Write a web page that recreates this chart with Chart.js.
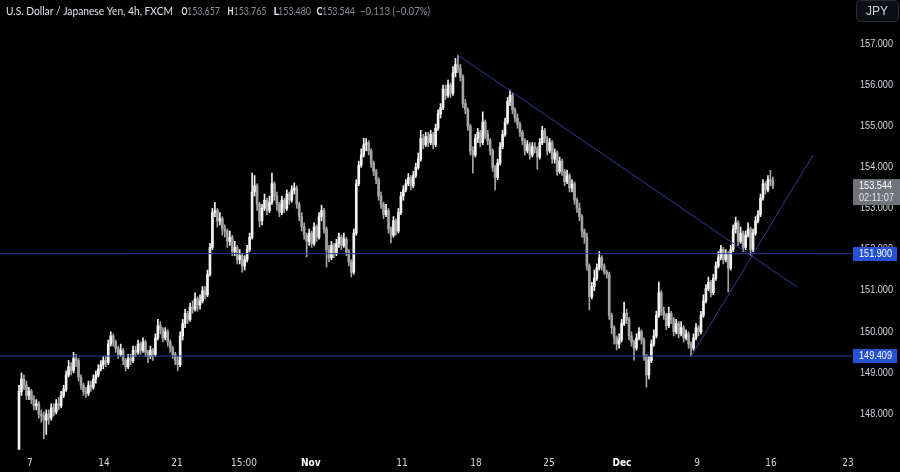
<!DOCTYPE html>
<html><head><meta charset="utf-8">
<script src="https://cdn.jsdelivr.net/npm/chart.js@4.4.1/dist/chart.umd.min.js"></script>
<style>html,body{margin:0;padding:0;background:#000;}#wrap{width:900px;height:472px;position:relative}</style>
</head><body><div id="wrap"><canvas id="c" width="900" height="472"></canvas></div>
<script>
const opens = [147.15,148.55,148.85,148.70,148.45,148.55,148.35,148.20,148.25,148.00,147.95,147.85,148.00,147.90,148.15,148.05,148.25,148.20,148.45,148.60,148.95,149.15,149.05,149.35,149.30,148.90,148.70,148.55,148.50,148.70,148.65,148.85,148.95,149.10,149.20,149.30,149.25,149.70,149.90,149.75,149.60,149.45,149.55,149.30,149.15,149.35,149.30,149.55,149.50,149.70,149.55,149.75,149.50,149.40,149.55,149.45,149.85,150.15,150.05,149.85,150.00,149.75,149.60,149.45,149.30,149.20,149.90,150.20,150.45,150.30,150.60,150.55,150.80,150.65,150.75,151.00,150.90,151.40,152.05,152.90,152.95,152.70,152.75,152.50,152.45,152.20,152.30,151.95,152.05,151.75,151.85,151.60,151.75,152.00,152.30,153.40,153.55,153.10,152.70,153.00,153.20,152.95,153.15,153.60,153.30,153.10,152.90,153.20,153.00,153.35,153.20,153.45,153.50,153.10,152.80,152.55,152.35,152.20,152.40,152.15,152.55,152.30,152.80,152.95,152.50,152.00,151.80,152.10,151.90,152.15,152.30,152.10,152.25,151.95,151.70,151.45,152.40,153.60,154.05,154.30,154.55,154.60,154.40,154.10,153.90,153.70,153.30,153.10,152.85,152.95,152.50,152.35,152.70,152.45,152.90,153.30,153.45,153.60,153.75,153.55,153.80,154.00,154.20,154.70,154.55,154.75,154.60,154.80,154.55,154.95,155.30,155.45,155.90,155.75,156.00,155.80,156.30,156.50,156.40,156.20,155.55,155.40,155.00,154.40,154.30,154.70,154.85,154.60,155.10,154.80,154.65,154.40,154.00,153.75,154.10,154.50,154.80,155.10,155.60,155.75,155.40,155.20,155.05,154.85,154.65,154.40,154.55,154.30,154.50,154.45,154.25,154.60,154.90,154.70,154.40,154.60,154.20,154.35,153.90,154.15,153.90,153.65,153.80,153.50,153.60,153.20,153.00,152.80,152.45,152.30,151.60,150.85,151.10,151.30,151.55,151.80,151.60,151.45,151.40,150.40,150.10,149.85,149.70,149.80,150.20,150.45,150.30,149.90,149.75,149.60,149.85,150.00,149.80,149.40,148.95,149.30,149.70,149.90,150.40,150.95,150.50,150.40,150.15,150.45,150.30,150.00,150.20,149.95,150.10,149.85,149.95,149.70,149.60,149.85,150.10,150.00,150.40,150.75,151.05,151.20,150.95,151.30,151.60,151.80,152.00,151.75,151.90,151.55,152.00,152.50,152.65,152.20,152.40,152.05,152.35,152.50,152.00,152.40,152.70,152.85,153.25,153.60,153.45,153.70,153.657];
const highs = [148.70,149.00,148.95,148.80,148.65,148.60,148.45,148.35,148.30,148.10,148.05,148.10,148.10,148.25,148.25,148.35,148.40,148.55,148.70,149.05,149.30,149.25,149.50,149.45,149.35,148.95,148.75,148.65,148.80,148.80,148.95,149.05,149.20,149.30,149.40,149.40,149.80,150.00,149.95,149.80,149.65,149.70,149.60,149.35,149.45,149.45,149.65,149.65,149.80,149.75,149.85,149.80,149.55,149.65,149.60,149.95,150.30,150.25,150.10,150.10,150.05,149.80,149.65,149.50,149.40,150.00,150.30,150.55,150.50,150.70,150.75,150.95,150.85,150.90,151.10,151.10,151.50,152.15,153.00,153.15,153.00,152.90,152.80,152.60,152.50,152.45,152.35,152.20,152.10,152.00,151.90,151.85,152.10,152.40,153.86,153.80,153.60,153.15,153.10,153.35,153.25,153.30,153.86,153.65,153.40,153.15,153.30,153.25,153.45,153.40,153.55,153.62,153.55,153.15,152.90,152.65,152.40,152.50,152.45,152.65,152.60,152.90,153.08,153.00,152.55,152.10,152.20,152.15,152.25,152.40,152.35,152.40,152.30,152.00,151.75,152.50,153.70,154.15,154.45,154.71,154.70,154.65,154.45,154.15,153.95,153.75,153.40,153.15,153.10,153.00,152.55,152.80,152.75,153.00,153.40,153.55,153.70,153.85,153.80,153.90,154.10,154.35,154.90,154.80,154.85,154.85,154.90,154.85,155.05,155.40,155.55,156.00,156.00,156.12,156.05,156.45,156.65,156.73,156.50,156.25,155.65,155.45,155.05,154.50,154.80,154.95,154.90,155.35,155.15,154.90,154.70,154.45,154.05,154.20,154.60,154.90,155.20,155.70,155.88,155.80,155.45,155.30,155.10,154.90,154.70,154.65,154.60,154.60,154.60,154.50,154.70,155.00,154.95,154.75,154.70,154.65,154.45,154.40,154.25,154.20,153.95,153.93,153.85,153.70,153.65,153.25,153.13,152.85,152.50,152.40,151.65,151.20,151.50,151.65,151.95,151.85,151.65,151.50,151.45,150.45,150.15,149.90,149.95,150.30,150.72,150.55,150.35,150.00,149.80,149.95,150.10,150.05,149.85,149.45,149.40,149.80,150.05,150.50,151.21,151.00,150.60,150.45,150.60,150.50,150.35,150.30,150.25,150.25,150.15,150.05,150.00,149.75,149.95,150.20,150.15,150.50,150.90,151.15,151.33,151.25,151.40,151.70,151.95,152.10,152.05,152.00,151.95,152.10,152.60,152.79,152.70,152.55,152.45,152.45,152.65,152.55,152.50,152.80,152.95,153.35,153.70,153.65,153.80,153.93,153.765];
const lows = [147.10,148.45,148.60,148.35,148.35,148.25,148.10,148.10,147.90,147.80,147.40,147.50,147.75,147.85,147.95,148.00,148.10,148.15,148.40,148.55,148.90,148.95,149.00,149.15,148.80,148.60,148.45,148.40,148.45,148.55,148.60,148.75,148.90,149.05,149.10,149.15,149.20,149.65,149.65,149.50,149.35,149.40,149.20,149.05,149.10,149.20,149.25,149.40,149.45,149.45,149.50,149.40,149.25,149.35,149.30,149.40,149.80,149.95,149.75,149.80,149.65,149.50,149.35,149.20,149.05,149.15,149.80,150.10,150.20,150.25,150.45,150.50,150.50,150.55,150.70,150.80,150.85,151.35,152.00,152.80,152.55,152.60,152.35,152.30,152.05,152.10,151.85,151.85,151.65,151.65,151.45,151.50,151.70,151.95,152.25,153.30,152.95,152.55,152.60,152.95,152.85,152.90,153.10,153.20,152.95,152.80,152.85,152.90,152.95,153.10,153.15,153.35,153.00,152.70,152.45,152.25,151.82,152.10,152.05,152.10,152.20,152.25,152.70,152.40,151.57,151.70,151.75,151.80,151.85,152.05,152.00,152.05,151.85,151.60,151.33,151.40,152.35,153.55,154.00,154.25,154.40,154.30,154.00,153.80,153.60,153.20,153.00,152.75,152.80,152.40,152.16,152.30,152.35,152.40,152.85,153.20,153.40,153.55,153.45,153.50,153.75,153.95,154.15,154.45,154.50,154.50,154.55,154.45,154.50,154.90,155.20,155.40,155.65,155.70,155.70,155.75,156.20,156.30,156.10,155.45,155.30,154.90,154.30,153.86,154.25,154.60,154.50,154.55,154.70,154.55,154.30,153.90,153.45,153.70,154.05,154.45,154.75,155.05,155.50,155.30,155.10,154.95,154.75,154.55,154.30,154.35,154.20,154.25,154.35,153.95,154.20,154.55,154.60,154.30,154.35,154.10,154.10,153.80,153.85,153.80,153.55,153.60,153.40,153.40,153.10,152.90,152.70,152.30,152.15,151.50,150.53,150.80,151.00,151.25,151.50,151.50,151.40,151.30,150.30,149.95,149.70,149.56,149.60,149.75,150.15,150.20,149.80,149.65,149.31,149.55,149.80,149.70,149.30,148.65,148.85,149.25,149.65,149.85,150.35,150.40,150.30,150.05,150.10,150.20,149.90,149.95,149.85,149.90,149.75,149.80,149.60,149.40,149.55,149.80,149.90,149.95,150.35,150.70,151.00,150.85,150.90,151.25,151.55,151.75,151.65,151.70,150.97,151.50,151.95,152.40,152.10,152.15,151.95,152.00,152.30,151.85,151.95,152.35,152.65,152.80,153.20,153.35,153.40,153.55,153.48];
const closes = [148.55,148.85,148.70,148.45,148.55,148.35,148.20,148.25,148.00,147.95,147.85,148.00,147.90,148.15,148.05,148.25,148.20,148.45,148.60,148.95,149.15,149.05,149.35,149.30,148.90,148.70,148.55,148.50,148.70,148.65,148.85,148.95,149.10,149.20,149.30,149.25,149.70,149.90,149.75,149.60,149.45,149.55,149.30,149.15,149.35,149.30,149.55,149.50,149.70,149.55,149.75,149.50,149.40,149.55,149.45,149.85,150.15,150.05,149.85,150.00,149.75,149.60,149.45,149.30,149.20,149.90,150.20,150.45,150.30,150.60,150.55,150.80,150.65,150.75,151.00,150.90,151.40,152.05,152.90,152.95,152.70,152.75,152.50,152.45,152.20,152.30,151.95,152.05,151.75,151.85,151.60,151.75,152.00,152.30,153.40,153.55,153.10,152.70,153.00,153.20,152.95,153.15,153.60,153.30,153.10,152.90,153.20,153.00,153.35,153.20,153.45,153.50,153.10,152.80,152.55,152.35,152.20,152.40,152.15,152.55,152.30,152.80,152.95,152.50,152.00,151.80,152.10,151.90,152.15,152.30,152.10,152.25,151.95,151.70,151.45,152.40,153.60,154.05,154.30,154.55,154.60,154.40,154.10,153.90,153.70,153.30,153.10,152.85,152.95,152.50,152.35,152.70,152.45,152.90,153.30,153.45,153.60,153.75,153.55,153.80,154.00,154.20,154.70,154.55,154.75,154.60,154.80,154.55,154.95,155.30,155.45,155.90,155.75,156.00,155.80,156.30,156.50,156.40,156.20,155.55,155.40,155.00,154.40,154.30,154.70,154.85,154.60,155.10,154.80,154.65,154.40,154.00,153.75,154.10,154.50,154.80,155.10,155.60,155.75,155.40,155.20,155.05,154.85,154.65,154.40,154.55,154.30,154.50,154.45,154.25,154.60,154.90,154.70,154.40,154.60,154.20,154.35,153.90,154.15,153.90,153.65,153.80,153.50,153.60,153.20,153.00,152.80,152.45,152.30,151.60,150.85,151.10,151.30,151.55,151.80,151.60,151.45,151.40,150.40,150.10,149.85,149.70,149.80,150.20,150.45,150.30,149.90,149.75,149.60,149.85,150.00,149.80,149.40,148.95,149.30,149.70,149.90,150.40,150.95,150.50,150.40,150.15,150.45,150.30,150.00,150.20,149.95,150.10,149.85,149.95,149.70,149.60,149.85,150.10,150.00,150.40,150.75,151.05,151.20,150.95,151.30,151.60,151.80,152.00,151.75,151.90,151.55,152.00,152.50,152.65,152.20,152.40,152.05,152.35,152.50,152.00,152.40,152.70,152.85,153.25,153.60,153.45,153.70,153.657,153.544];

const priceTicks = [148, 149, 150, 151, 152, 153, 154, 155, 156, 157];
const timeTickPos = [4.4, 34.3, 63.7, 90.7, 117.7, 154.4, 184.3, 213.7, 243.1, 273.4, 303.2, 334.3];
const timeTickLabels = ['7', '14', '21', '15:00', 'Nov', '11', '18', '25', 'Dec', '9', '16', '23'];
const boldTimeLabels = ['Nov', 'Dec'];
const levelPrices = [151.900, 149.409];
const downTrendX = [177, 313.7];
const downTrendY = [156.73, 151.09];
const upTrendX = [271, 320.2];
const upTrendY = [149.40, 154.30];
const lastPrice = 153.544;
const countdown = '02:11:07';
const titleText = 'U.S. Dollar / Japanese Yen, 4h, FXCM';
const ohlcLabels = ['O', 'H', 'L', 'C'];
const ohlcValues = ['153.657', '153.765', '153.480', '153.544'];
const changeText = '\u22120.113 (\u22120.07%)';
const currency = 'JPY';

const xMin = -7.66, xMax = 335.9, yMin = 147.124, yMax = 158.07;

const upColor = '#f2f2f2', downColor = '#a4a4a4';
const lineColor = '#2f3c95';
const candleColors = closes.map((c, i) => c >= opens[i] ? upColor : downColor);

const wickData = closes.map((c, i) => ({ x: i, y: [lows[i], highs[i]] }));
const bodyData = closes.map((c, i) => {
  let lo = Math.min(opens[i], c), hi = Math.max(opens[i], c);
  if (hi - lo < 0.02) { hi = lo + 0.02; }
  return { x: i, y: [lo, hi] };
});

const levelSets = levelPrices.map(p => ({
  type: 'line', data: [{ x: xMin, y: p }, { x: xMax, y: p }],
  borderColor: lineColor, borderWidth: 1, pointRadius: 0, order: 0, fill: false
}));

const textPlugin = {
  id: 'texts',
  beforeDraw(chart) {
    const ctx = chart.ctx;
    ctx.save();
    ctx.fillStyle = '#000000';
    ctx.fillRect(0, 0, chart.width, chart.height);
    ctx.restore();
  },
  afterDraw(chart) {
    const ctx = chart.ctx;
    const ys = chart.scales.y, xs = chart.scales.x;
    ctx.save();
    // price axis labels
    ctx.font = '10px "Liberation Sans", Arial, sans-serif';
    ctx.fillStyle = '#d1d4dc';
    ctx.textBaseline = 'middle';
    ctx.textAlign = 'left';
    priceTicks.forEach(p => {
      ctx.fillText(p.toFixed(3), 860, ys.getPixelForValue(p), 33);
    });
    // time axis labels
    ctx.textAlign = 'center';
    timeTickLabels.forEach((t, k) => {
      const bold = boldTimeLabels.includes(t);
      ctx.font = (bold ? 'bold ' : '') + '10px "DejaVu Sans Condensed", "Liberation Sans", sans-serif';
      ctx.fillStyle = bold ? '#ffffff' : '#d1d4dc';
      ctx.fillText(t, xs.getPixelForValue(timeTickPos[k]), 463);
    });
    // level boxes
    levelPrices.forEach(p => {
      const y = Math.round(ys.getPixelForValue(p));
      ctx.fillStyle = '#2451d6';
      ctx.fillRect(853, y - 7, 44, 14);
      ctx.fillStyle = '#ffffff';
      ctx.font = '10px "Liberation Sans", Arial, sans-serif';
      ctx.textAlign = 'left';
      ctx.fillText(p.toFixed(3), 859, y + 0.5, 33);
    });
    // last price box
    const ly = ys.getPixelForValue(lastPrice);
    ctx.fillStyle = '#70737c';
    ctx.fillRect(853, ly - 7, 47, 26);
    ctx.fillStyle = '#ffffff';
    ctx.textAlign = 'left';
    ctx.fillText(lastPrice.toFixed(3), 859, ly + 0.5, 33);
    ctx.fillStyle = '#e6e6e6';
    ctx.fillText(countdown, 859, ly + 12, 35);
    // currency button
    ctx.fillStyle = '#0e0f14';
    ctx.strokeStyle = '#2a2e39';
    ctx.lineWidth = 1;
    ctx.beginPath();
    ctx.roundRect(856.5, 0.5, 42, 21, 4);
    ctx.fill();
    ctx.stroke();
    ctx.fillStyle = '#d1d4dc';
    ctx.font = '12px "Liberation Sans", Arial, sans-serif';
    ctx.textAlign = 'center';
    ctx.fillText(currency, 877, 11.5);
    // title
    ctx.textAlign = 'left';
    ctx.textBaseline = 'alphabetic';
    ctx.font = '11px "Lato", "Liberation Sans", sans-serif';
    ctx.fillStyle = '#e0e3eb';
    ctx.fillText(titleText, 6, 15, 167);
    const lx = [181.5, 227.5, 273.5, 316.5];
    const vx = [187, 233.5, 278, 322];
    ohlcLabels.forEach((l, k) => {
      ctx.font = 'bold 11px "Lato", "Liberation Sans", sans-serif';
      ctx.fillStyle = '#e0e3eb';
      ctx.fillText(l, lx[k], 15, 6);
      ctx.font = '11px "Lato", "Liberation Sans", sans-serif';
      ctx.fillStyle = '#8a8d96';
      ctx.fillText(ohlcValues[k], vx[k], 15, 33);
    });
    ctx.fillText(changeText, 360, 15, 70);
    ctx.restore();
  }
};

new Chart(document.getElementById('c'), {
  type: 'bar',
  data: {
    datasets: [
      { type: 'line', data: [{ x: downTrendX[0], y: downTrendY[0] }, { x: downTrendX[1], y: downTrendY[1] }],
        borderColor: lineColor, borderWidth: 1, pointRadius: 0, order: 0, fill: false },
      { type: 'line', data: [{ x: upTrendX[0], y: upTrendY[0] }, { x: upTrendX[1], y: upTrendY[1] }],
        borderColor: lineColor, borderWidth: 1, pointRadius: 0, order: 0, fill: false },
      ...levelSets,
      { type: 'bar', data: wickData, backgroundColor: candleColors, barThickness: 1, grouped: false, order: 2 },
      { type: 'bar', data: bodyData, backgroundColor: candleColors, barThickness: 2, grouped: false, order: 1 }
    ]
  },
  options: {
    responsive: false,
    animation: false,
    devicePixelRatio: 1,
    layout: { padding: { left: 0, top: 0, right: 48, bottom: 22 } },
    plugins: { legend: { display: false }, tooltip: { enabled: false } },
    scales: {
      x: { type: 'linear', min: xMin, max: xMax, display: false, offset: false },
      y: { type: 'linear', min: yMin, max: yMax, display: false }
    }
  },
  plugins: [textPlugin]
});
</script></body></html>
